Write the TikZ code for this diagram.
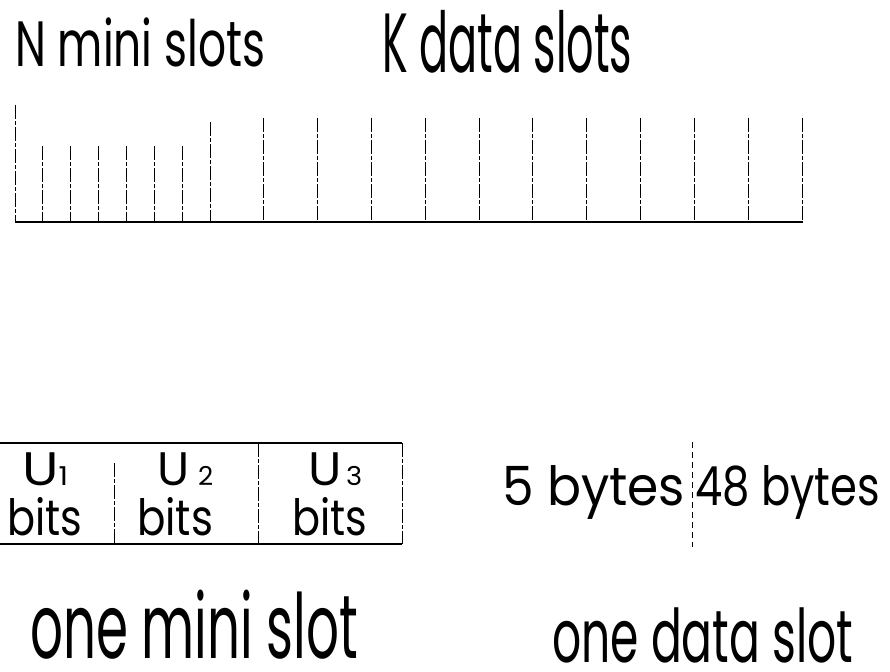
\documentclass[tikz,border=0pt]{standalone}
\usepackage{fontspec}
\setmainfont{Poppins}
\usepackage{graphicx}
% squeeze a text to a given width, keeping its height
\newcommand{\squeeze}[2]{\resizebox{#1}{\height}{#2}}
\newcommand{\sz}[1]{\fontsize{#1}{#1}\selectfont}

\tikzset{
  lbl/.style={inner sep=0pt, anchor=base west},
  slotline/.style={line width=0.9pt, dash pattern=on 14pt off 2pt on 4pt off 2pt},
  byteline/.style={line width=0.8pt, dash pattern=on 6pt off 4pt},
  frame/.style={line width=1.4pt},
}

\begin{document}
\begin{tikzpicture}[x=1pt,y=-1pt]
\useasboundingbox (0,0) rectangle (890,671);

% headings over the frame
\node[lbl] (nmini) at (15,67) {\sz{64}\squeeze{250pt}{N mini slots}};
\node[lbl] (kdata) at (382,73) {\sz{84}\squeeze{250pt}{K data slots}};

% the frame: 7 mini slots, then 11 data slots
\coordinate (o) at (15,222);
\coordinate (e) at (803,222);
\draw[frame] (o) -- (e);
\draw[slotline] (15,105) -- (o);
\foreach \i in {1,...,6}
    \draw[slotline] ({15+27.86*\i},146) -- ++(0,76);
\draw[slotline] (210,122) -- (210,222);
\foreach \j in {1,...,11}
    \draw[slotline] ({210+53.82*\j},118) -- ++(0,104);

% one mini slot
\draw[frame] (0,443) -- (402,443);
\draw[frame] (0,544) -- (402,544);
\draw[slotline] (114,463) -- (114,544);
\draw[slotline] (258,443) -- (258,544);
\draw[slotline] (402,443) -- (402,544);

\node[lbl] (u1) at (22,485) {\sz{47}\squeeze{46pt}{U\sz{26}1}};
\node[lbl] (b1) at (7,535) {\sz{50}\squeeze{75pt}{bits}};
\node[lbl] (u2) at (157,485) {\sz{47}\squeeze{56pt}{U\sz{26}\,\,2}};
\node[lbl] (b2) at (137,535) {\sz{50}\squeeze{76pt}{bits}};
\node[lbl] (u3) at (308,485) {\sz{47}\squeeze{54pt}{U\sz{26}\,3}};
\node[lbl] (b3) at (292,535) {\sz{50}\squeeze{75pt}{bits}};

% one data slot
\node[lbl] (hdr) at (502,505) {\sz{54}\squeeze{183pt}{5 bytes}};
\node[lbl] (pay) at (695,505) {\sz{54}\squeeze{185pt}{48 bytes}};
\draw[byteline] (692,442) -- (692,547);

% captions
\node[lbl] (cmini) at (30,658) {\sz{90}\squeeze{328pt}{one mini slot}};
\node[lbl] (cdata) at (552,662) {\sz{74}\squeeze{301pt}{one data slot}};
\end{tikzpicture}
\end{document}
